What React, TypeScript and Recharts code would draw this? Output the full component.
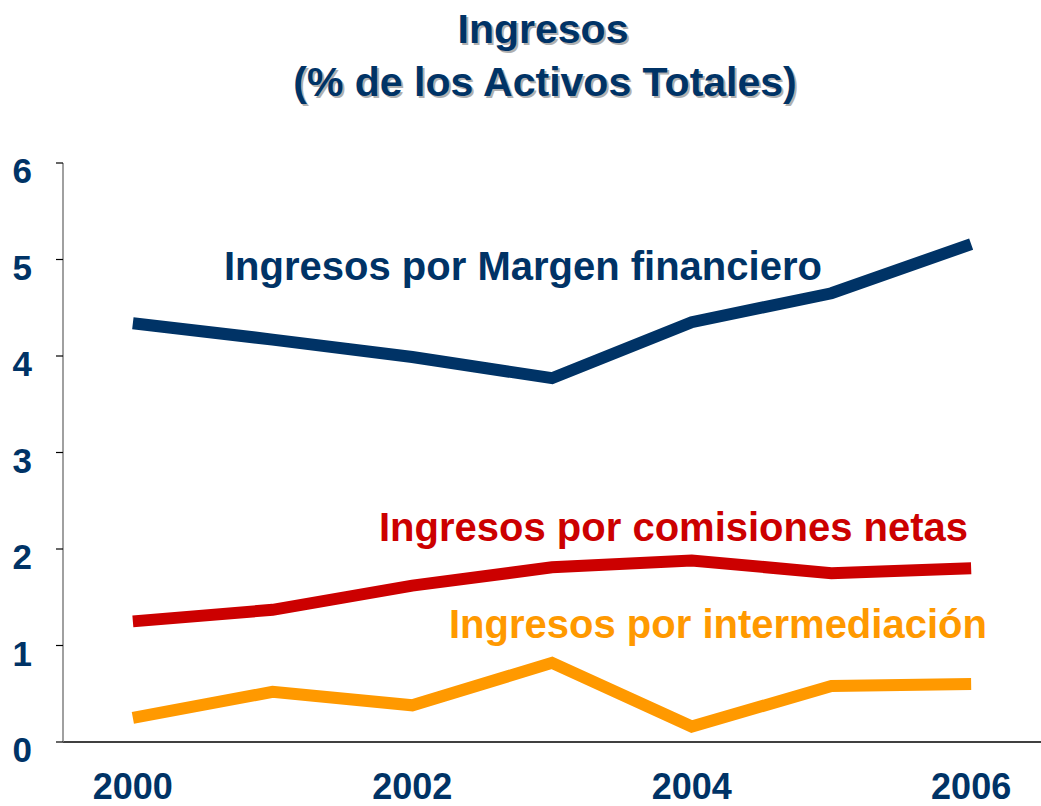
import React from 'react';
import { LineChart, Line, XAxis, YAxis } from 'recharts';

const YEARS = [2000, 2001, 2002, 2003, 2004, 2005, 2006];
const MARGEN = [4.34, 4.17, 3.99, 3.77, 4.35, 4.65, 5.16];
const COMISIONES = [1.25, 1.37, 1.62, 1.81, 1.88, 1.75, 1.8];
const INTERMEDIACION = [0.25, 0.52, 0.38, 0.82, 0.16, 0.58, 0.6];

const Y_TICKS = [0, 1, 2, 3, 4, 5, 6];
const X_LABEL_TICKS = [2000, 2002, 2004, 2006];
const X_BOUNDARY_TICKS = [1999.5, 2000.5, 2001.5, 2002.5, 2003.5, 2004.5, 2005.5];

const NAVY = '#003366';
const RED = '#CC0000';
const ORANGE = '#FF9900';
const FONT = '"Liberation Sans", Arial, sans-serif';

const data = YEARS.map((year, i) => ({
  year,
  margen: MARGEN[i],
  comisiones: COMISIONES[i],
  intermediacion: INTERMEDIACION[i],
}));

const W = 1041;
const H = 806;

export default function App() {
  return (
    <div style={{ position: 'absolute', left: 0, top: 0, width: W, height: H, background: '#fff', fontFamily: FONT }}>
      <LineChart
        width={W}
        height={H}
        data={data}
        margin={{ top: 163, right: 0, left: 62, bottom: 62 }}
      >
        <XAxis
          xAxisId="bounds"
          dataKey="year"
          type="number"
          domain={[1999.5, 2006.5]}
          ticks={X_BOUNDARY_TICKS}
          tick={false}
          tickSize={9}
          height={1}
          axisLine={{ stroke: '#000', strokeWidth: 1.5 }}
          tickLine={{ stroke: '#000', strokeWidth: 1.2 }}
        />
        <XAxis
          xAxisId="main"
          dataKey="year"
          type="number"
          domain={[1999.5, 2006.5]}
          ticks={X_LABEL_TICKS}
          height={1}
          axisLine={false}
          tickLine={false}
          tickSize={0}
          tickMargin={30}
          tick={{ fill: NAVY, fontSize: 36, fontWeight: 'bold', fontFamily: FONT }}
        />
        <YAxis
          domain={[0, 6]}
          ticks={Y_TICKS}
          width={1}
          tickSize={7}
          tickMargin={24}
          axisLine={{ stroke: '#808080', strokeWidth: 1.5 }}
          tickLine={{ stroke: '#000', strokeWidth: 1.2 }}
          tick={{ fill: NAVY, fontSize: 35, fontWeight: 'bold', fontFamily: FONT, dy: 8 }}
        />
        <Line xAxisId="main" dataKey="margen" stroke={NAVY} strokeWidth={12} dot={false} isAnimationActive={false} type="linear" />
        <Line xAxisId="main" dataKey="comisiones" stroke={RED} strokeWidth={12} dot={false} isAnimationActive={false} type="linear" />
        <Line xAxisId="main" dataKey="intermediacion" stroke={ORANGE} strokeWidth={12} dot={false} isAnimationActive={false} type="linear" />
      </LineChart>

      <svg
        width={W}
        height={H}
        style={{ position: 'absolute', left: 0, top: 0, pointerEvents: 'none' }}
        fontFamily={FONT}
        fontWeight="bold"
      >
        <g fontSize={41} textAnchor="middle">
          <text x={545} y={45} fill="#b0b0b0">Ingresos</text>
          <text x={543} y={43} fill={NAVY}>Ingresos</text>
          <text x={547} y={98} fill="#b0b0b0">(% de los Activos Totales)</text>
          <text x={545} y={96} fill={NAVY}>(% de los Activos Totales)</text>
        </g>
        <g fontSize={40}>
          <text x={224} y={280} fill={NAVY}>Ingresos por Margen financiero</text>
          <text x={379} y={541} fill={RED}>Ingresos por comisiones netas</text>
          <text x={449} y={638} fill={ORANGE}>Ingresos por intermediación</text>
        </g>
      </svg>
    </div>
  );
}
